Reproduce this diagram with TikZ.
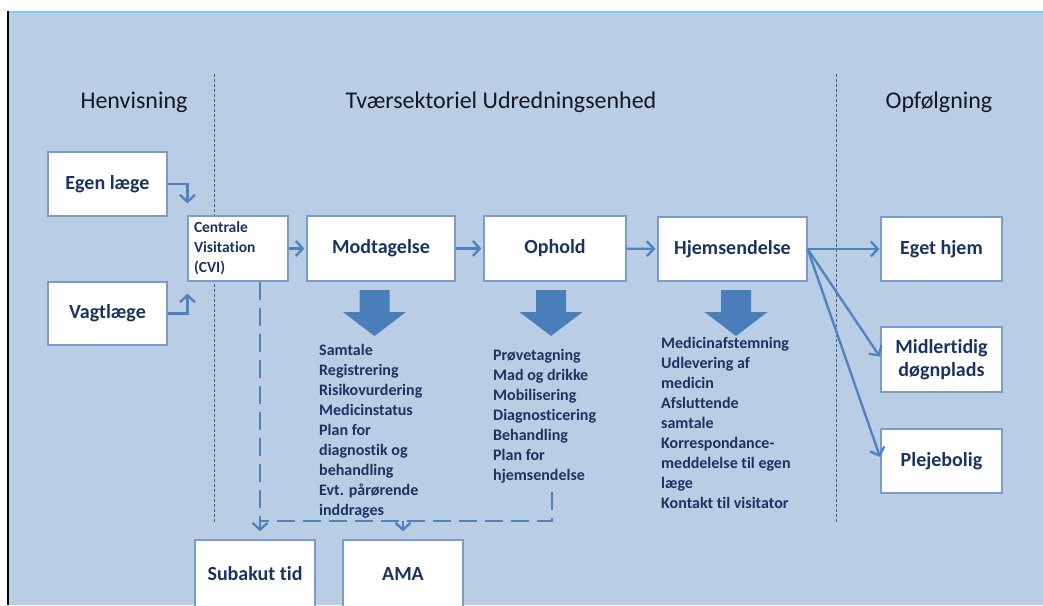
\documentclass[tikz,border=0pt]{standalone}
\usepackage{fontspec}
\setmainfont{Carlito}[Ligatures=NoCommon, RawFeature={-liga;-calt}]
\usetikzlibrary{arrows.meta,calc}
\definecolor{bgblue}{HTML}{B9CDE5}
\definecolor{boxline}{HTML}{7B9CCB}
\definecolor{arrowblue}{HTML}{4F81BD}
\definecolor{blockblue}{HTML}{4A7EBB}
\definecolor{navy}{HTML}{1C3360}
\definecolor{headtext}{HTML}{15171F}
\definecolor{divline}{HTML}{3F5B8A}
\definecolor{topcyan}{HTML}{6FD8E8}
\begin{document}
\begin{tikzpicture}[x=1pt,y=-1pt,
  box/.style={draw=boxline, fill=white, line width=1.2pt, inner sep=0pt,
    font=\bfseries\fontsize{20}{23}\selectfont, text=navy, align=center},
  header/.style={font=\fontsize{24}{28}\selectfont, text=headtext, inner sep=0pt},
  listtext/.style={font=\bfseries\fontsize{16}{20}\selectfont, text=navy, align=left, inner sep=0pt, anchor=north west},
  arr/.style={draw=arrowblue, line width=2.3pt, -{Straight Barb[length=7pt,width=15pt]}},
  dashline/.style={draw=arrowblue, line width=2.3pt, dash pattern=on 18pt off 8pt},
  dasharr/.style={dashline, -{Straight Barb[length=7pt,width=15pt]}},
  divider/.style={draw=divline, line width=1pt, dash pattern=on 2.5pt off 2.5pt}
]
\useasboundingbox (0,0) rectangle (1043,605);
\fill[white] (0,0) rectangle (1043,605);
\fill[bgblue] (8,12) rectangle (1043,605);
\draw[topcyan, line width=2pt] (8,12) -- (1043,12);
\draw[black, line width=1.2pt] (8,11) -- (8,605);

% dividers
\draw[divider] (214,74) -- (214,523);
\draw[divider] (836,74) -- (836,523);

% headers
\node[header] (hA) at (134,102) {Henvisning};
\node[header] (hB) at (501,102) {Tværsektoriel Udredningsenhed};
\node[header] (hC) at (939,102) {Opfølgning};

% boxes
\node[box, minimum width=119pt, minimum height=64pt] (egen) at (107.5,184) {Egen læge};
\node[box, minimum width=119pt, minimum height=63pt] (vagt) at (107.5,313.5) {Vagtlæge};
\node[box, minimum width=100pt, minimum height=65pt, text width=88pt, align=left,
  font=\bfseries\fontsize{15.5}{20}\selectfont] (cvi) at (238,248.5) {Centrale\\Visitation\\(CVI)};
\node[box, minimum width=148pt, minimum height=65pt] (modt) at (381,248.5) {Modtagelse};
\node[box, minimum width=142pt, minimum height=65pt] (ophold) at (555,248.5) {Ophold};
\node[box, minimum width=149pt, minimum height=64pt] (hjem) at (732.5,249) {Hjemsendelse};
\node[box, minimum width=121pt, minimum height=64pt] (eget) at (941.5,249) {Eget hjem};
\node[box, minimum width=121pt, minimum height=65pt] (midl) at (941.5,359.5) {Midlertidig\\døgnplads};
\node[box, minimum width=121pt, minimum height=64pt] (pleje) at (941.5,461) {Plejebolig};
\node[box, minimum width=120pt, minimum height=68pt] (sub) at (255,574) {Subakut tid};
\node[box, minimum width=120pt, minimum height=68pt] (ama) at (403,574) {AMA};

% block arrows
\foreach \cx in {374.5,551,736}{
  \fill[blockblue] (\cx-15,290) -- (\cx+15,290) -- (\cx+15,312) -- (\cx+31.5,312)
    -- (\cx,336) -- (\cx-31.5,312) -- (\cx-15,312) -- cycle;
}

% lists
\node[listtext] (modtlist) at (319,344) {Samtale\\Registrering\\Risikovurdering\\Medicinstatus\\Plan for\\diagnostik og\\behandling\\Evt. pårørende\\inddrages};
\node[listtext] (opholdlist) at (493,349) {Prøvetagning\\Mad og drikke\\Mobilisering\\Diagnosticering\\Behandling\\Plan for\\hjemsendelse};
\node[listtext] (hjemlist) at (661,337) {Medicinafstemning\\Udlevering af\\medicin\\Afsluttende\\samtale\\Korrespondance-\\meddelelse til egen\\læge\\Kontakt til visitator};

% connectors
\draw[arr] (egen.east) -| ([yshift=12pt]cvi.north west);
\draw[arr] (vagt.east) -| ([yshift=-12pt]cvi.south west);
\draw[arr, shorten >=2pt] (cvi) -- (modt);
\draw[arr, shorten >=2pt] (modt) -- (ophold);
\draw[arr, shorten >=2pt] (ophold) -- (hjem);
\draw[arr, shorten >=1pt] (hjem.east) -- (eget.west);
\draw[arr, shorten >=1pt] (hjem.east) -- ([yshift=2pt]midl.west);
\draw[arr, shorten >=1pt] (hjem.east) -- ([yshift=3pt]pleje.west);

% dashed routes
\coordinate (jA) at (552,492);
\coordinate (jB) at (552,521);
\coordinate (jC) at (260,521);
\draw[dasharr] ([xshift=22pt]cvi.south) -- ([xshift=5pt,yshift=8pt]sub.north);
\draw[dashline] (jA) -- (jB) -- (jC);
\draw[dasharr] (jC -| ama.north) -- ([yshift=8pt]ama.north);
\end{tikzpicture}
\end{document}
